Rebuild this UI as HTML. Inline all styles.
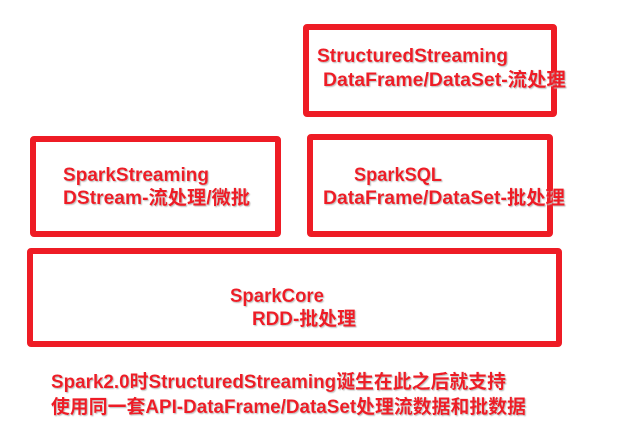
<!DOCTYPE html>
<html><head><meta charset="utf-8"><style>
html,body{margin:0;padding:0;background:#fff;}
svg{display:block;}
text{font-family:"Liberation Sans","Noto Sans CJK SC",sans-serif;font-weight:bold;font-size:19px;fill:#ee1c25;}
</style></head><body>
<svg width="619" height="435" viewBox="0 0 619 435" xmlns="http://www.w3.org/2000/svg">
<defs><filter id="sh" x="-5%" y="-20%" width="110%" height="140%"><feDropShadow dx="1" dy="1" stdDeviation="0.6" flood-color="#bbb"/></filter></defs>
<g fill="none" stroke="#ee1c25" stroke-width="6" stroke-linejoin="round">
<rect x="306" y="27" width="248" height="87" rx="1"/>
<rect x="33" y="139" width="245" height="95" rx="1"/>
<rect x="310" y="137" width="240" height="97" rx="1"/>
<rect x="30" y="251" width="529" height="93" rx="1"/>
</g>
<g filter="url(#sh)">
<text x="317" y="62" textLength="191" lengthAdjust="spacingAndGlyphs">StructuredStreaming</text>
<text x="323" y="86" textLength="243" lengthAdjust="spacingAndGlyphs">DataFrame/DataSet-流处理</text>
<text x="63" y="181" textLength="146" lengthAdjust="spacingAndGlyphs">SparkStreaming</text>
<text x="63" y="204" textLength="187" lengthAdjust="spacingAndGlyphs">DStream-流处理/微批</text>
<text x="354" y="181" textLength="88" lengthAdjust="spacingAndGlyphs">SparkSQL</text>
<text x="323" y="204" textLength="242" lengthAdjust="spacingAndGlyphs">DataFrame/DataSet-批处理</text>
<text x="230" y="302" textLength="94" lengthAdjust="spacingAndGlyphs">SparkCore</text>
<text x="252" y="325" textLength="104" lengthAdjust="spacingAndGlyphs">RDD-批处理</text>
<text x="51" y="388" textLength="455" lengthAdjust="spacingAndGlyphs">Spark2.0时StructuredStreaming诞生在此之后就支持</text>
<text x="51" y="413" textLength="475" lengthAdjust="spacingAndGlyphs">使用同一套API-DataFrame/DataSet处理流数据和批数据</text>
</g>
</svg>
</body></html>
